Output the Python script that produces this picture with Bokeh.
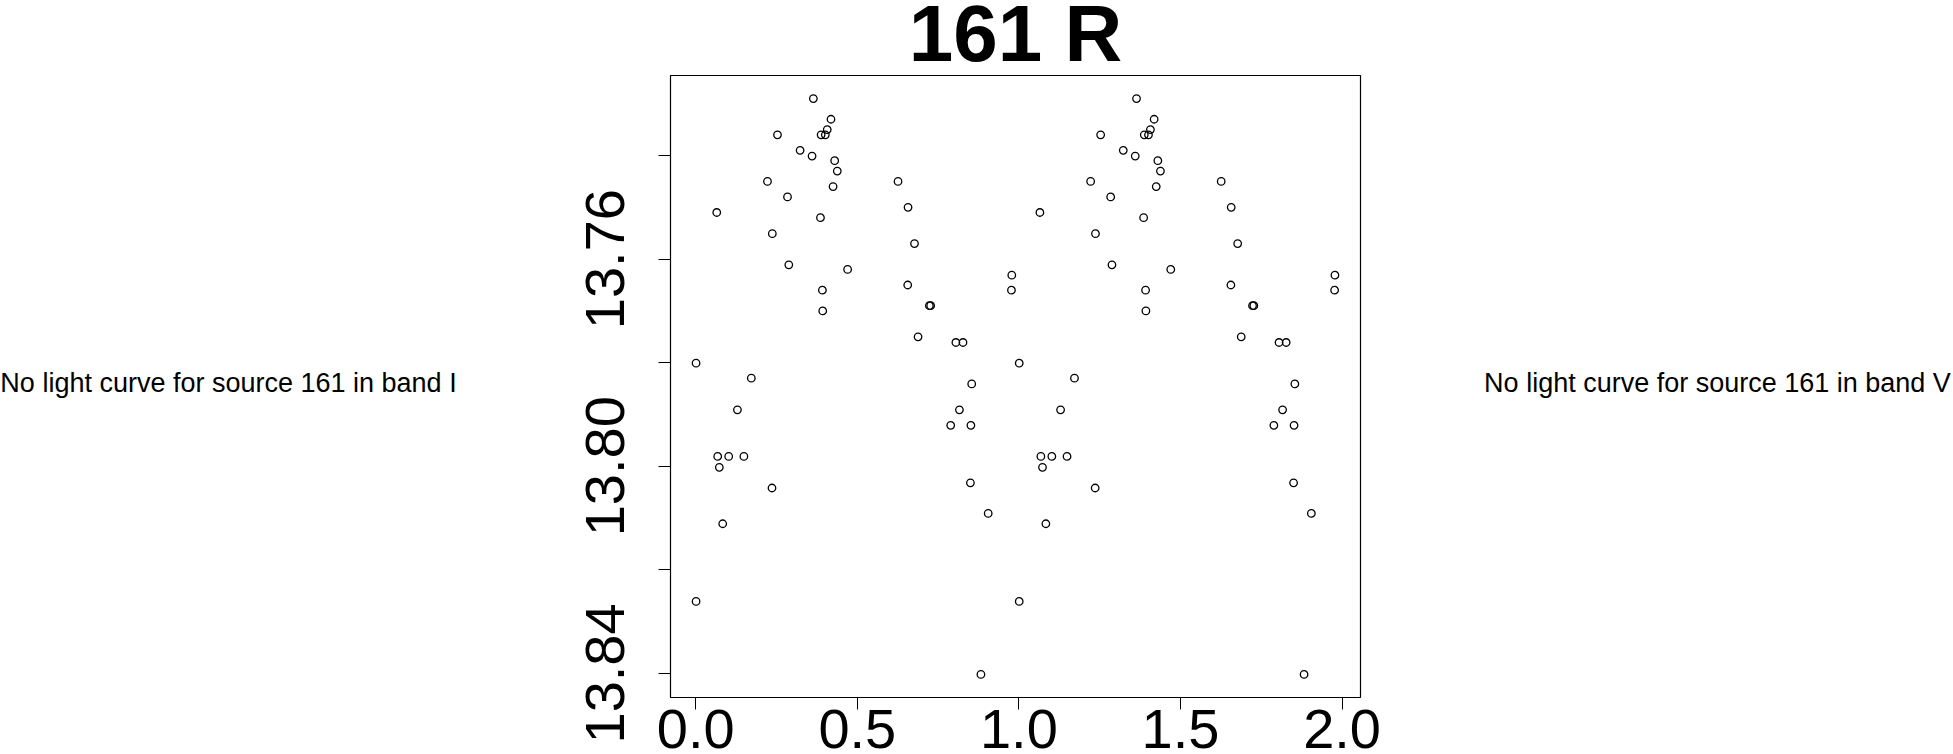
from bokeh.plotting import figure
from bokeh.layouts import row, column
from bokeh.models import Range1d, FixedTicker, PrintfTickFormatter, Label, GlobalInlineStyleSheet
from bokeh.embed import file_html
from bokeh.resources import INLINE

# ---- data (phase-folded light curve, band R, source 161) ----
phase = [0.001, 0.001, 0.065, 0.068, 0.073, 0.0835, 0.102, 0.129, 0.149, 0.172,
         0.222, 0.236, 0.237, 0.253, 0.284, 0.288, 0.323, 0.360, 0.364, 0.386,
         0.388, 0.392, 0.393, 0.401, 0.407, 0.4185, 0.425, 0.430, 0.438, 0.470,
         0.626, 0.656, 0.657, 0.677, 0.688, 0.723, 0.727, 0.789, 0.805, 0.816,
         0.827, 0.850, 0.8515, 0.854, 0.8825, 0.905, 0.977, 0.978]
mag = [13.7801, 13.8261, 13.7510, 13.7981, 13.8002, 13.8111, 13.7981, 13.7891, 13.7981, 13.7830,
       13.7450, 13.8042, 13.7551, 13.7360, 13.7480, 13.7611, 13.7390, 13.7401, 13.7290, 13.7520,
       13.7360, 13.7660, 13.7700, 13.7360, 13.7350, 13.7330, 13.7460, 13.7410, 13.7430, 13.7620,
       13.7450, 13.7650, 13.7500, 13.7570, 13.7750, 13.7690, 13.7690, 13.7921, 13.7761, 13.7891,
       13.7761, 13.8032, 13.7921, 13.7841, 13.8402, 13.8091, 13.7660, 13.7631]

x_ticks = [0.0, 0.5, 1.0, 1.5, 2.0]
y_ticks_labeled = [13.76, 13.80, 13.84]
y_ticks_unlabeled = [13.74, 13.78, 13.82]

title_text = "161 R"
left_note = "No light curve for source 161 in band I"
right_note = "No light curve for source 161 in band V"

# two cycles of phase
xs = phase + [p + 1.0 for p in phase]
ys = mag + mag

# ---- layout constants (pixels) ----
FONT = "Liberation Sans"
WL = 456            # left note panel width
WR = 472            # right note panel width
WC = 1025           # centre column width
FRAME_L = 214       # frame left inside centre panel
FRAME_W = 690
FRAME_R = WC - FRAME_L - FRAME_W
TITLE_H = 75
FRAME_H = 622
BOTTOM = 100
H_ALL = TITLE_H + FRAME_H + BOTTOM
NOTE_MID = 382      # vertical centre of side notes
TITLE_MID = 33      # vertical centre of title

xmin, xmax = min(xs), max(xs)
xpad = 0.04 * (xmax - xmin)
ymin, ymax = min(ys), max(ys)
ypad = 0.04 * (ymax - ymin)
x0, x1 = xmin - xpad, xmax + xpad
y_top, y_bot = ymin - ypad, ymax + ypad   # magnitudes: reversed axis


def blank(w, h, xr=None, bl=0, br=0):
    f = figure(width=w, height=h, output_backend="svg", toolbar_location=None,
               x_axis_type=None, y_axis_type=None, min_border=0, title=None,
               x_range=xr if xr is not None else Range1d(0, w), y_range=Range1d(h, 0))
    f.min_border_left = bl
    f.min_border_right = br
    f.outline_line_color = None
    f.background_fill_color = "white"
    f.border_fill_color = "white"
    return f


# ---- main scatter panel ----
p = figure(width=WC, height=FRAME_H + BOTTOM, output_backend="svg", toolbar_location=None,
           x_range=Range1d(x0, x1), y_range=Range1d(y_bot, y_top), min_border=0, title=None)
p.min_border_left = FRAME_L
p.min_border_right = FRAME_R
p.min_border_top = 0
p.min_border_bottom = BOTTOM

p.xgrid.visible = False
p.ygrid.visible = False
p.outline_line_color = "black"
p.outline_line_width = 1.2
p.background_fill_color = "white"
p.border_fill_color = "white"

p.scatter(xs, ys, marker="circle", size=7.5, fill_color=None,
          line_color="black", line_width=1.3)

xa = p.xaxis[0]
xa.ticker = FixedTicker(ticks=x_ticks)
xa.formatter = PrintfTickFormatter(format="%.1f")
xa.axis_line_color = None
xa.major_tick_out = 12
xa.major_tick_in = 0
xa.minor_tick_out = 0
xa.minor_tick_in = 0
xa.major_tick_line_color = "black"
xa.major_label_text_font = FONT
xa.major_label_text_font_size = "56px"
xa.major_label_text_color = "black"
xa.major_label_standoff = 0

ya = p.yaxis[0]
ya.ticker = FixedTicker(ticks=y_ticks_labeled, minor_ticks=y_ticks_unlabeled)
ya.formatter = PrintfTickFormatter(format="%.2f")
ya.axis_line_color = None
ya.major_tick_out = 12
ya.major_tick_in = 0
ya.minor_tick_out = 12
ya.minor_tick_in = 0
ya.major_tick_line_color = "black"
ya.minor_tick_line_color = "black"
ya.major_label_orientation = "vertical"
ya.major_label_text_font = FONT
ya.major_label_text_font_size = "56px"
ya.major_label_text_color = "black"
ya.major_label_standoff = 34

# ---- title panel (frame aligned with the scatter frame) ----
t = blank(WC, TITLE_H, xr=p.x_range, bl=FRAME_L, br=FRAME_R)
t.add_layout(Label(x=(x0 + x1) / 2, y=TITLE_MID, text=title_text,
                   text_font=FONT, text_font_size="80px", text_font_style="bold",
                   text_align="center", text_baseline="middle", text_color="black"))

# ---- side notes ----
left = blank(WL, H_ALL)
left.add_layout(Label(x=WL / 2, y=NOTE_MID, text=left_note,
                      text_font=FONT, text_font_size="27px",
                      text_align="center", text_baseline="middle", text_color="black"))
right = blank(WR, H_ALL)
right.add_layout(Label(x=WR / 2, y=NOTE_MID, text=right_note,
                       text_font=FONT, text_font_size="27px",
                       text_align="center", text_baseline="middle", text_color="black"))

layout = row(left, column(t, p), right)
layout.stylesheets = [GlobalInlineStyleSheet(css="html, body { overflow: hidden; }")]

open("out.html", "w").write(file_html(layout, INLINE))
